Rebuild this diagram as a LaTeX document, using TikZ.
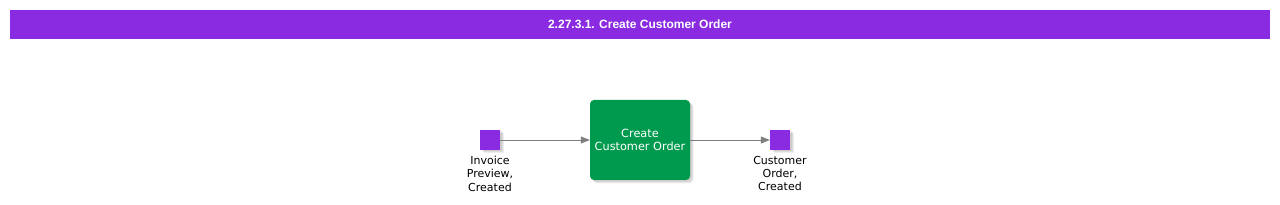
\documentclass[tikz,border=0pt]{standalone}
\usepackage{fontspec}
\setmainfont{DejaVu Sans}
\newfontfamily\titlefont{Liberation Sans}
\usetikzlibrary{arrows.meta}
\definecolor{violetbar}{HTML}{8A2BE2}
\definecolor{taskgreen}{HTML}{009A4E}
\definecolor{arrowgray}{HTML}{7F7F7F}
\tikzset{
  eventsq/.style={fill=violetbar, draw=none, minimum width=20pt, minimum height=20pt, inner sep=0pt},
  taskbox/.style={fill=taskgreen, draw=none, rounded corners=4pt, minimum width=100pt, minimum height=80pt, inner sep=0pt, text=white, font=\fontsize{11.3pt}{13pt}\selectfont, align=center},
  evlabel/.style={font=\fontsize{11pt}{13.3pt}\selectfont, align=center, inner sep=0pt, anchor=north},
  flow/.style={draw=arrowgray, line width=0.8pt, -{Triangle[length=9pt,width=7pt]}},
  softshadow/.style={fill=black, fill opacity=0.07},
}
\begin{document}
\begin{tikzpicture}[x=1pt,y=-1pt]
\useasboundingbox (0,0) rectangle (1280,205);
\fill[white] (0,0) rectangle (1280,205);
% title bar
\fill[violetbar] (10,10) rectangle (1270,39.5);
\node[text=white, font=\titlefont\bfseries\fontsize{12pt}{14pt}\selectfont, inner sep=0pt] (title) at (640,24.5) {2.27.3.1. Create Customer Order};
% shadows
\foreach \d in {1.5,2.5,3.5}{
  \fill[softshadow] (480+\d,130+\d) rectangle (500+\d,150+\d);
  \fill[softshadow] (770+\d,130+\d) rectangle (790+\d,150+\d);
  \fill[softshadow, rounded corners=4pt] (590+\d,100+\d) rectangle (690+\d,180+\d);
}
% nodes
\node[eventsq] (ev1) at (490,140) {};
\node[eventsq] (ev2) at (780,140) {};
\node[taskbox] (task) at (640,140) {Create\\Customer Order};
\node[evlabel] (l1) at (490,156) {Invoice\\Preview,\\Created};
\node[evlabel] (l2) at (780,156) {Customer\\Order,\\Created};
% connectors
\draw[flow] (ev1.east) -- (task.west);
\draw[flow] (task.east) -- (ev2.west);
\end{tikzpicture}
\end{document}
